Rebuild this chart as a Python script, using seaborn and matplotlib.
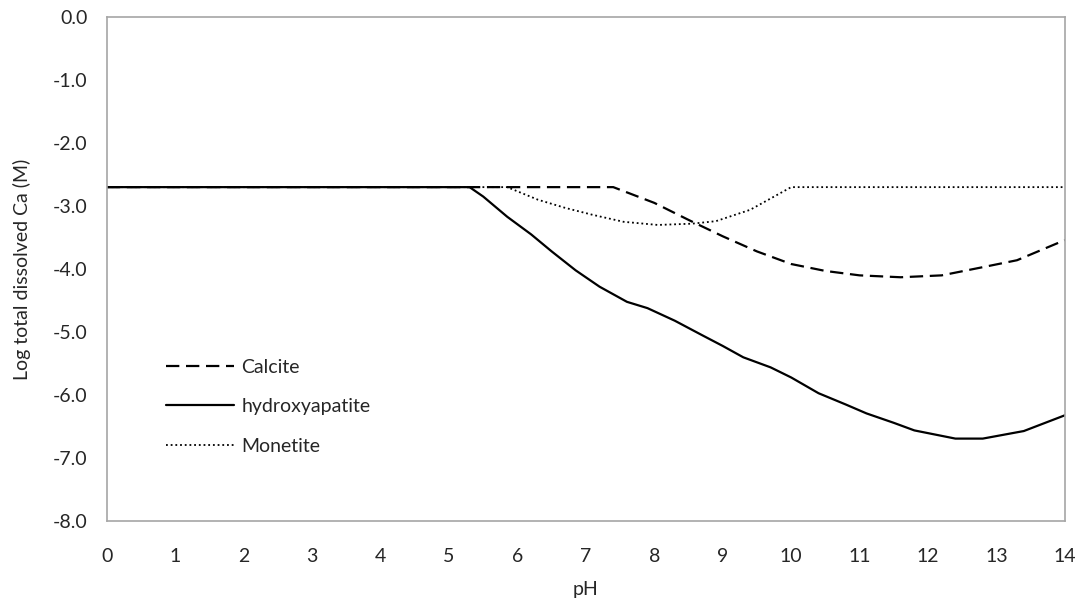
import matplotlib
matplotlib.use("Agg")
import matplotlib.pyplot as plt
import seaborn as sns
import pandas as pd

# Calcite (dashed)
calcite_ph = [0, 7.4, 8.0, 8.5, 9.0, 9.5, 10.0, 10.5, 11.0, 11.6, 12.2, 12.8, 13.3, 14.0]
calcite_ca = [-2.7, -2.7, -2.95, -3.22, -3.48, -3.72, -3.92, -4.03, -4.10, -4.13, -4.10, -3.97, -3.86, -3.54]

# hydroxyapatite (solid)
hap_ph = [0, 5.3, 5.5, 5.85, 6.2, 6.5, 6.85, 7.2, 7.6, 7.9, 8.3, 8.7, 9.0, 9.3, 9.7, 10.0, 10.4,
          10.8, 11.1, 11.5, 11.8, 12.4, 12.8, 13.4, 14.0]
hap_ca = [-2.7, -2.7, -2.85, -3.17, -3.45, -3.72, -4.02, -4.28, -4.52, -4.62, -4.82, -5.05, -5.22,
          -5.40, -5.56, -5.72, -5.97, -6.15, -6.29, -6.44, -6.56, -6.69, -6.69, -6.57, -6.32]

# Monetite (dotted)
mon_ph = [0, 5.85, 6.3, 6.7, 7.1, 7.55, 8.05, 8.55, 8.9, 9.4, 10.0, 14.0]
mon_ca = [-2.7, -2.7, -2.9, -3.03, -3.14, -3.25, -3.30, -3.28, -3.24, -3.06, -2.7, -2.7]

sns.set_style("white")
plt.rcParams["font.family"] = ["Lato", "DejaVu Sans"]
plt.rcParams["axes.unicode_minus"] = False

fig = plt.figure(figsize=(10.8, 6.06), dpi=100)
ax = fig.add_axes([0.099, 0.140, 0.887, 0.832])

sns.lineplot(x=calcite_ph, y=calcite_ca, ax=ax, color="black", linewidth=1.6,
             label="Calcite", linestyle=(0, (6, 3)))
sns.lineplot(x=hap_ph, y=hap_ca, ax=ax, color="black", linewidth=1.6,
             label="hydroxyapatite")
sns.lineplot(x=mon_ph, y=mon_ca, ax=ax, color="black", linewidth=1.3,
             label="Monetite", linestyle=(0, (1, 1.6)))

ax.set_xlim(0, 14)
ax.set_ylim(-8, 0)
ax.set_xticks(range(0, 15))
ax.set_yticks([-8, -7, -6, -5, -4, -3, -2, -1, 0])
ax.yaxis.set_major_formatter(matplotlib.ticker.FormatStrFormatter("%.1f"))
ax.tick_params(length=0, labelsize=14)
ax.tick_params(axis="x", pad=19)
ax.tick_params(axis="y", pad=14)
for s in ax.spines.values():
    s.set_color("#a6a6a6")
    s.set_linewidth(1.2)

ax.set_xlabel("pH", fontsize=14, labelpad=12)
ax.set_ylabel("Log total dissolved Ca (M)", fontsize=14, labelpad=16)

ax.legend(loc="lower left", bbox_to_anchor=(0.043, 0.097), frameon=False,
          fontsize=14, handlelength=3.5, labelspacing=1.16, handletextpad=0.4)

fig.savefig("out.png", dpi=100)
